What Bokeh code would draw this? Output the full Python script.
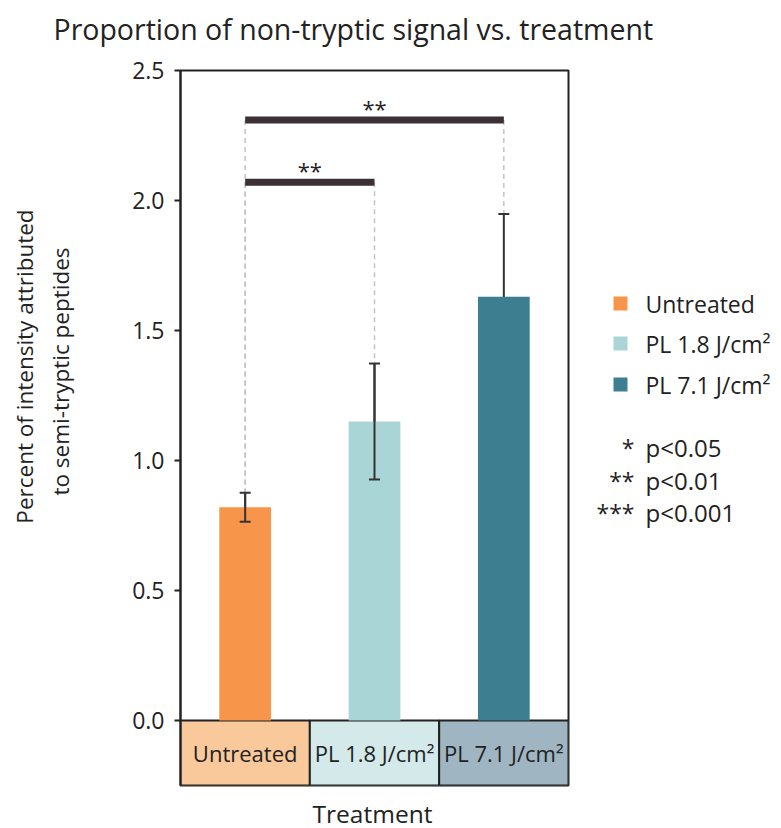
import math
from bokeh.plotting import figure
from bokeh.layouts import column, row
from bokeh.models import (ColumnDataSource, FactorRange, Range1d, FixedTicker,
                          CDSView, IndexFilter, PrintfTickFormatter)
from bokeh.core.properties import value
from bokeh.embed import file_html
from bokeh.resources import INLINE

# ---------------- data ----------------
categories = ["Untreated", "PL 1.8 J/cm²", "PL 7.1 J/cm²"]
means = [0.82, 1.15, 1.63]
errors = [0.056, 0.223, 0.318]
bar_colors = ["#f7964a", "#a9d5d6", "#3d7f91"]
box_colors = ["#f9c89b", "#d3e9ea", "#9fb5c1"]
y_ticks = [0.0, 0.5, 1.0, 1.5, 2.0, 2.5]
sig_pairs = [(0, 1), (0, 2)]
sig_heights = [2.07, 2.31]
sig_marks = ["**", "**"]
pvalue_marks = ["*", "**", "***"]
pvalue_labels = ["p<0.05", "p<0.01", "p<0.001"]
title_text = "Proportion of non-tryptic signal vs. treatment"
y_label_lines = ["Percent of intensity attributed", "to semi-tryptic peptides"]
x_label_text = "Treatment"

FONT = "Open Sans"
DARK = "#222222"


def blank(w, h, x0, x1, y_top, y_bottom):
    f = figure(width=w, height=h, output_backend="svg", toolbar_location=None, title=None,
               x_axis_location=None, y_axis_location=None,
               x_range=Range1d(x0, x1), y_range=Range1d(y_bottom, y_top),
               min_border=0, min_border_left=0, min_border_right=0,
               min_border_top=0, min_border_bottom=0)
    f.outline_line_color = None
    f.grid.visible = False
    f.background_fill_color = "white"
    f.border_fill_color = "white"
    return f


# ---------------- main chart ----------------
p = figure(width=480, height=737, output_backend="svg", toolbar_location=None, title=None,
           x_axis_location=None,
           x_range=FactorRange(factors=categories, range_padding=0),
           y_range=Range1d(-0.25, 2.5),
           min_border_left=90, min_border_right=2, min_border_top=20, min_border_bottom=2)
p.background_fill_color = "white"
p.border_fill_color = "white"
p.outline_line_color = DARK
p.outline_line_width = 2
p.grid.visible = False

ax = p.yaxis[0]
ax.ticker = FixedTicker(ticks=y_ticks)
ax.formatter = PrintfTickFormatter(format="%.1f")
ax.axis_line_color = DARK
ax.axis_line_width = 2
ax.major_tick_line_color = DARK
ax.major_tick_line_width = 2
ax.major_tick_out = 6
ax.major_tick_in = 0
ax.minor_tick_line_color = None
ax.major_label_text_font = FONT
ax.major_label_text_font_size = "23px"
ax.major_label_text_color = DARK
ax.major_label_standoff = 10

src = ColumnDataSource(dict(
    cat=categories, mean=means,
    lo=[m - e for m, e in zip(means, errors)],
    hi=[m + e for m, e in zip(means, errors)],
    color=bar_colors, box=box_colors,
))

# bottom category boxes
p.rect(x="cat", y=-0.125, width=1, height=0.25, source=src, fill_color="box",
       line_color=DARK, line_width=2)
p.text(x="cat", y=-0.125, text="cat", source=src, text_align="center", text_baseline="middle",
       text_font=value(FONT), text_font_size="22px", text_color=DARK)

# significance guide lines (dashed)
dx, dy0, dy1 = [], [], []
for (i, j), h in zip(sig_pairs, sig_heights):
    for k in (i, j):
        dx.append(categories[k]); dy0.append(h); dy1.append(means[k] + errors[k])
p.segment(x0=dx, y0=dy0, x1=dx, y1=dy1, line_color="#c4c4c4", line_width=1.5, line_dash="5 4")

# error bars below bars (lower part hidden by the tall bar)
p.segment(x0="cat", y0="lo", x1="cat", y1="hi", source=src, line_color="#333333", line_width=2)

bars = p.vbar(x="cat", top="mean", width=0.4, source=src, fill_color="color", line_color=None)

view = CDSView(filter=IndexFilter([0, 1]))
p.segment(x0="cat", y0="lo", x1="cat", y1="hi", source=src, view=view,
          line_color="#333333", line_width=2)
p.scatter(x="cat", y="lo", source=src, view=view, marker="dash", size=11,
          line_color="#333333", line_width=2)
p.scatter(x="cat", y="hi", source=src, marker="dash", size=11,
          line_color="#333333", line_width=2)

# significance bars
sx0 = [categories[i] for i, j in sig_pairs]
sx1 = [categories[j] for i, j in sig_pairs]
p.segment(x0=sx0, y0=sig_heights, x1=sx1, y1=sig_heights, line_color="#3a3035", line_width=7)
mid = [(i + j) / 2 + 0.5 for i, j in sig_pairs]
p.text(x=mid, y=sig_heights, text=sig_marks, text_align="center", text_baseline="alphabetic",
       y_offset=-12, text_font=value(FONT), text_font_size="22px", text_color=DARK)

# ---------------- title (canvas y 0..50) ----------------
t = blank(781, 50, 0, 781, 0, 50)
t.text(x=[53], y=[28.5], text=[title_text], text_align="left", text_baseline="middle",
       text_font=value(FONT), text_font_size="28.5px", text_color=DARK)

# ---------------- y label (frame aligned with plot frame: canvas y 70..785) ----------------
yl = blank(90, 737, 0, 90, 70, 785)
yl.text(x=[24, 60], y=[366, 371], text=y_label_lines, angle=math.pi / 2,
        text_align="center", text_baseline="middle",
        text_font=value(FONT), text_font_size="22.5px", text_color=DARK)

# ---------------- legend + p-value key (canvas x 570..781, y 70..785) ----------------
lg = blank(211, 737, 570, 781, 70, 785)
leg_y = [303, 343, 384]
lg.scatter(x=[620] * 3, y=leg_y, marker="square", size=14, fill_color=bar_colors, line_color=None)
lg.text(x=[645] * 3, y=leg_y, text=categories, text_align="left", text_baseline="middle",
        text_font=value(FONT), text_font_size="23px", text_color=DARK)
key_y = [447, 480, 512]
lg.text(x=[634] * 3, y=key_y, text=pvalue_marks, text_align="right", text_baseline="middle",
        text_font=value(FONT), text_font_size="23px", text_color=DARK)
lg.text(x=[645] * 3, y=key_y, text=pvalue_labels, text_align="left", text_baseline="middle",
        text_font=value(FONT), text_font_size="24px", text_color=DARK)

# ---------------- x label (canvas y 787..828) ----------------
xl = blank(781, 41, 0, 781, 787, 828)
xl.text(x=[372], y=[813], text=[x_label_text], text_align="center", text_baseline="middle",
        text_font=value(FONT), text_font_size="24.5px", text_color=DARK)

layout = column(t, row(yl, p, lg, spacing=0), xl, spacing=0)
open("out.html", "w").write(file_html(layout, INLINE))
